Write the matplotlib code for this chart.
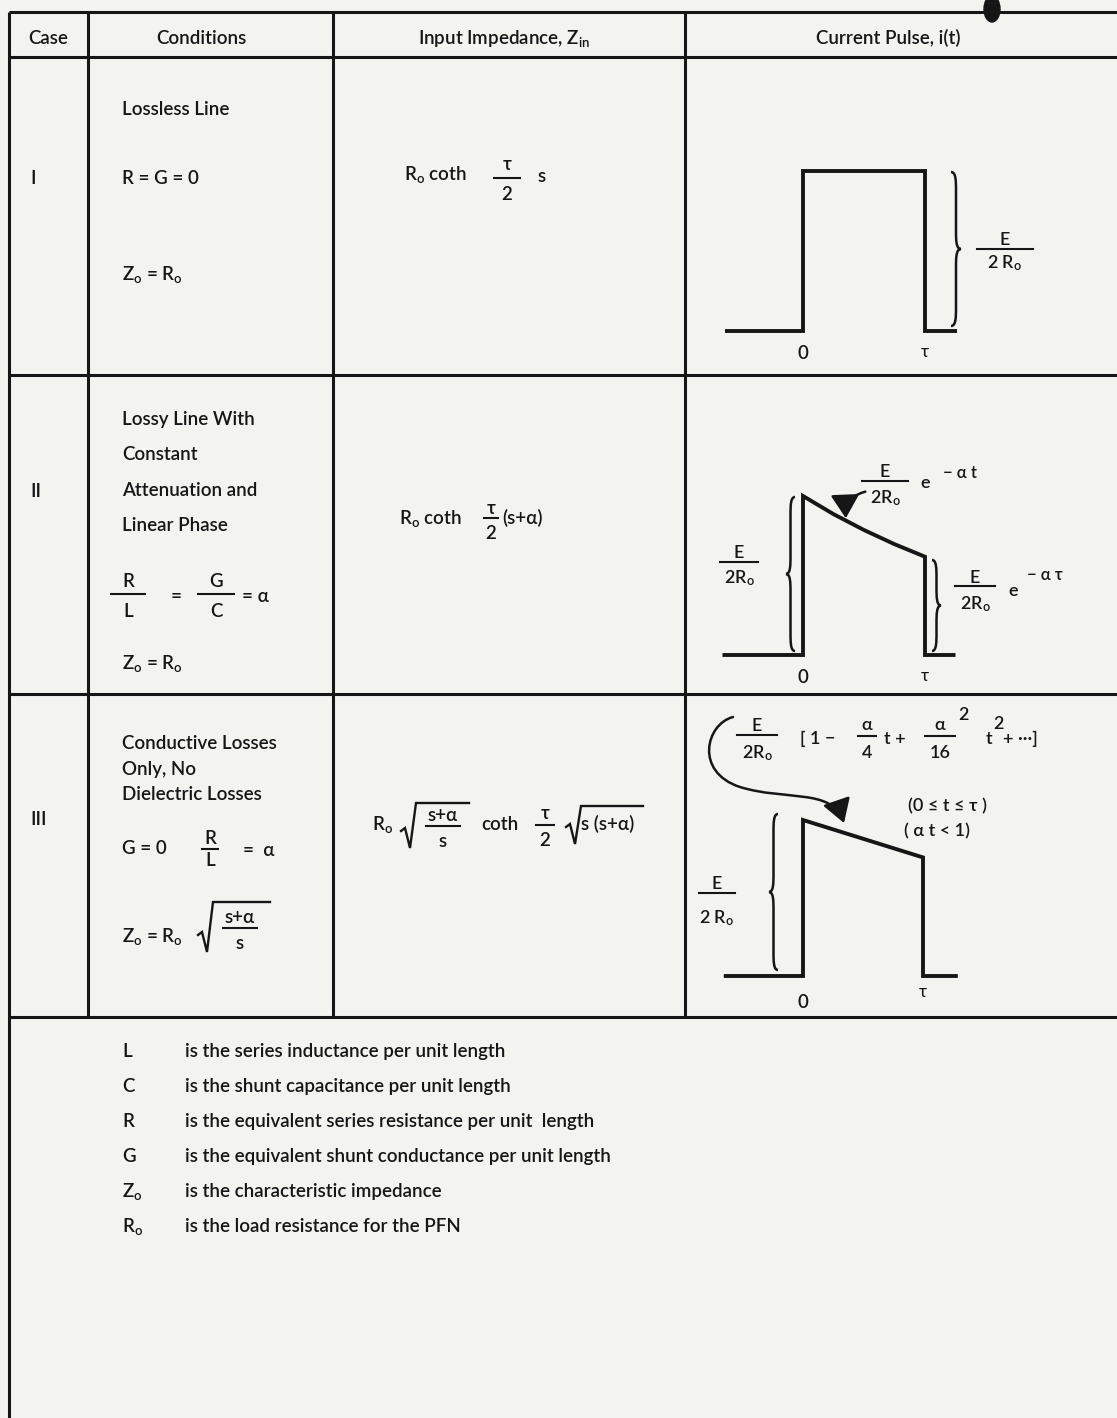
import matplotlib.pyplot as plt
from matplotlib.path import Path
from matplotlib.patches import PathPatch, FancyArrowPatch, Ellipse

W, H = 1117, 1418
INK = "#161616"
PAPER = "#f3f3f0"
WEIGHT = "semibold"
BASE = 13.5

plt.rcParams["font.family"] = ["Lato", "DejaVu Sans"]
plt.rcParams["mathtext.fontset"] = "custom"
plt.rcParams["mathtext.rm"] = "Lato"
plt.rcParams["mathtext.it"] = "Lato:italic"

SUB_O = r"$_{\mathregular{o}}$"

# ---- table ruling and header ----
col_x = [9, 88, 333, 685]
row_y = [12, 57, 375, 694, 1017]
header_text = ["Case", "Conditions", r"Input Impedance, Z$_{\mathregular{in}}$", "Current Pulse, i(t)"]
header_cx = [48, 201, 504, 888]

case_names = ["I", "II", "III"]
case_y = [177, 490, 818]

# plain lines of the "Conditions" column (text, y)
cond_text = ["Lossless Line", "R = G = 0", "Z" + SUB_O + " = R" + SUB_O,
             "Lossy Line With", "Constant", "Attenuation and", "Linear Phase", "Z" + SUB_O + " = R" + SUB_O,
             "Conductive Losses", "Only, No", "Dielectric Losses", "G = 0", "Z" + SUB_O + " = R" + SUB_O]
cond_y = [108, 177, 273, 418, 453, 489, 524, 662, 742, 768, 793, 847, 935]

# ---- current pulses: time in units of tau, current in units of E/2Ro ----
pulse_t_I = [-0.64, 0, 0, 1, 1, 1.26]
pulse_i_I = [0, 0, 1, 1, 0, 0]
pulse_t_II = [-0.66, 0, 0, 0.25, 0.5, 0.75, 1, 1, 1.25]
pulse_i_II = [0, 0, 1, 0.886, 0.786, 0.697, 0.618, 0, 0]
pulse_t_III = [-0.66, 0, 0, 1, 1, 1.29]
pulse_i_III = [0, 0, 1, 0.76, 0, 0]

# ---- symbol list under the table ----
legend_sym = ["L", "C", "R", "G", "Z" + SUB_O, "R" + SUB_O]
legend_def = ["is the series inductance per unit length",
              "is the shunt capacitance per unit length",
              "is the equivalent series resistance per unit  length",
              "is the equivalent shunt conductance per unit length",
              "is the characteristic impedance",
              "is the load resistance for the PFN"]
legend_y = [1050, 1085, 1120, 1155, 1190, 1225]

fig = plt.figure(figsize=(W / 100, H / 100), dpi=100, facecolor=PAPER)
ax = fig.add_axes([0, 0, 1, 1])
ax.set_xlim(0, W)
ax.set_ylim(H, 0)
ax.axis("off")


def put(x, y, s, size=BASE, ha="left", **kw):
    # y is the visual middle of a capital letter
    kw.setdefault("color", INK)
    kw.setdefault("fontweight", WEIGHT)
    return ax.text(x, y + 6.2 * size / 12.5, s, fontsize=size, ha=ha, va="baseline", **kw)


def frac(cx, ybar, num, den, half, up=12, down=15, size=BASE):
    put(cx, ybar - up, num, size, ha="center")
    ax.plot([cx - half, cx + half], [ybar, ybar], color=INK, lw=1.5)
    put(cx, ybar + down, den, size, ha="center")


def radical(x0, x1, ytop, ybot):
    xs = [x0 - 8, x0 - 4, x0 + 1, x0 + 7, x1]
    ys = [ybot - 17, ybot - 20, ybot, ytop, ytop]
    ax.plot(xs, ys, color=INK, lw=1.7, solid_joinstyle="miter")


def brace(x, y0, y1, w, side):
    ym = (y0 + y1) / 2
    r = min(9, (y1 - y0) / 8)
    h = side * w / 2
    verts = [(x, y0), (x + h, y0), (x + h, y0 + r), (x + h, y0 + 2 * r),
             (x + h, ym - 2 * r),
             (x + h, ym - r), (x + h, ym), (x + 2 * h, ym),
             (x + h, ym), (x + h, ym + r), (x + h, ym + 2 * r),
             (x + h, y1 - 2 * r),
             (x + h, y1 - r), (x + h, y1), (x, y1)]
    codes = [Path.MOVETO] + [Path.CURVE4] * 3 + [Path.LINETO] + [Path.CURVE4] * 6 + \
            [Path.LINETO] + [Path.CURVE4] * 3
    ax.add_patch(PathPatch(Path(verts, codes), fill=False, ec=INK, lw=1.8))


def pulse_axes(x_zero, x_tau, base, top):
    sx, sy = x_tau - x_zero, base - top
    px0, px1, py0, py1 = 690, 1112, top - 40, base + 40
    a = fig.add_axes([px0 / W, 1 - py1 / H, (px1 - px0) / W, (py1 - py0) / H])
    a.set_xlim((px0 - x_zero) / sx, (px1 - x_zero) / sx)
    a.set_ylim((base - py1) / sy, (base - py0) / sy)
    a.axis("off")
    a.patch.set_alpha(0)
    return a


# ruling
lw_rule = 2.2
for y in row_y:
    ax.plot([col_x[0], W], [y, y], color=INK, lw=lw_rule, solid_capstyle="butt")
for x in col_x[1:]:
    ax.plot([x, x], [row_y[0], row_y[-1]], color=INK, lw=lw_rule, solid_capstyle="butt")
ax.plot([col_x[0], col_x[0]], [row_y[0], H], color=INK, lw=lw_rule, solid_capstyle="butt")
ax.add_patch(Ellipse((992, 9), 16, 26, color=INK))

for s, cx in zip(header_text, header_cx):
    put(cx, 37, s, ha="center")
for s, y in zip(case_names, case_y):
    put(30, y, s)
for s, y in zip(cond_text, cond_y):
    put(122, y, s)

# conditions: ratios
frac(128, 594, "R", "L", 17, up=14, down=16)
put(176, 595, "=", ha="center")
frac(216, 594, "G", "C", 18, up=14, down=16)
put(242, 595, "= α")
frac(210, 849, "R", "L", 8, up=12, down=10)
put(243, 849, "=  α")
radical(206, 270, 902, 952)
frac(240, 928, "s+α", "s", 17, up=12, down=14)

# input impedance column
put(404, 173, "R" + SUB_O + " coth")
frac(507, 178, "τ", "2", 13, up=15, down=15)
put(538, 175, "s")

put(399, 517, "R" + SUB_O + " coth")
frac(491, 518, "τ", "2", 7, up=11, down=14)
put(502, 517, "(s+α)")

put(372, 823, "R" + SUB_O)
radical(409, 469, 803, 848)
frac(443, 826, "s+α", "s", 17, up=12, down=14)
put(481, 823, "coth")
frac(545, 825, "τ", "2", 9, up=13, down=14)
radical(574, 643, 806, 844)
put(581, 823, "s (s+α)")

# current pulse column
pulses = [(pulse_t_I, pulse_i_I, (803, 925, 331, 171)),
          (pulse_t_II, pulse_i_II, (803, 925, 655, 496)),
          (pulse_t_III, pulse_i_III, (803, 923, 976, 820))]
zero_drop = [17, 17, 21]
tau_drop = [17, 17, 12]
for (t, i, geo), zd, td in zip(pulses, zero_drop, tau_drop):
    pa = pulse_axes(*geo)
    pa.plot(t, i, color=INK, lw=2.8, solid_joinstyle="miter", solid_capstyle="butt")
    pa.annotate("0", (0, 0), xytext=(0, -zd * 0.72 - 4), textcoords="offset points",
                ha="center", va="center", fontsize=BASE, color=INK, fontweight=WEIGHT)
    pa.annotate("τ", (1, 0), xytext=(0, -td * 0.72 - 3), textcoords="offset points",
                ha="center", va="center", fontsize=12.5, color=INK)

LBL = 13
SUP = 12
# case I annotations
brace(951, 172, 326, 10, +1)
frac(1005, 249, "E", "2 R" + SUB_O, 28, up=10, down=13, size=LBL)

# case II annotations
brace(795, 497, 651, 9, -1)
frac(739, 562, "E", "2R" + SUB_O, 19, up=10, down=15, size=LBL)
brace(932, 560, 651, 9, +1)
frac(975, 586, "E", "2R" + SUB_O, 20, up=9, down=17, size=LBL)
put(1008, 590, "e", size=LBL)
put(1027, 574, "− α τ", size=SUP)
frac(885, 481, "E", "2R" + SUB_O, 23, up=10, down=16, size=LBL)
put(920, 482, "e", size=LBL)
put(943, 472, "− α t", size=SUP)
ax.add_patch(FancyArrowPatch((868, 491), (846, 521), connectionstyle="arc3,rad=0.45",
                             arrowstyle="-|>,head_length=0.9,head_width=0.55",
                             mutation_scale=16, color=INK, lw=1.8))

# case III annotations
brace(778, 814, 970, 9, -1)
frac(717, 893, "E", "2 R" + SUB_O, 18, up=10, down=24, size=LBL)
frac(757, 735, "E", "2R" + SUB_O, 20, up=10, down=17, size=LBL)
put(800, 738, "[ 1 −", size=LBL)
frac(867, 736, "α", "4", 9, up=12, down=16, size=LBL)
put(884, 738, "t +", size=LBL)
frac(940, 736, "α", "16", 15, up=12, down=16, size=LBL)
put(958, 714, "2", size=LBL)
put(986, 738, "t", size=LBL)
put(993, 723, "2", size=LBL)
put(1003, 738, "+ ···]", size=LBL)
put(948, 805, "(0 ≤ t ≤ τ )", size=LBL, ha="center")
put(937, 830, "( α t < 1)", size=LBL, ha="center")
hook = Path([(733, 717), (706, 724), (694, 772), (740, 787),
             (785, 801), (832, 788), (844, 823)],
            [Path.MOVETO] + [Path.CURVE4] * 6)
ax.add_patch(FancyArrowPatch(path=hook, arrowstyle="-|>,head_length=0.9,head_width=0.55",
                             mutation_scale=16, color=INK, lw=1.8))

# symbol list
for s, d, y in zip(legend_sym, legend_def, legend_y):
    put(122, y, s)
    put(185, y, d)

fig.savefig("out.png", dpi=100, facecolor=PAPER)
